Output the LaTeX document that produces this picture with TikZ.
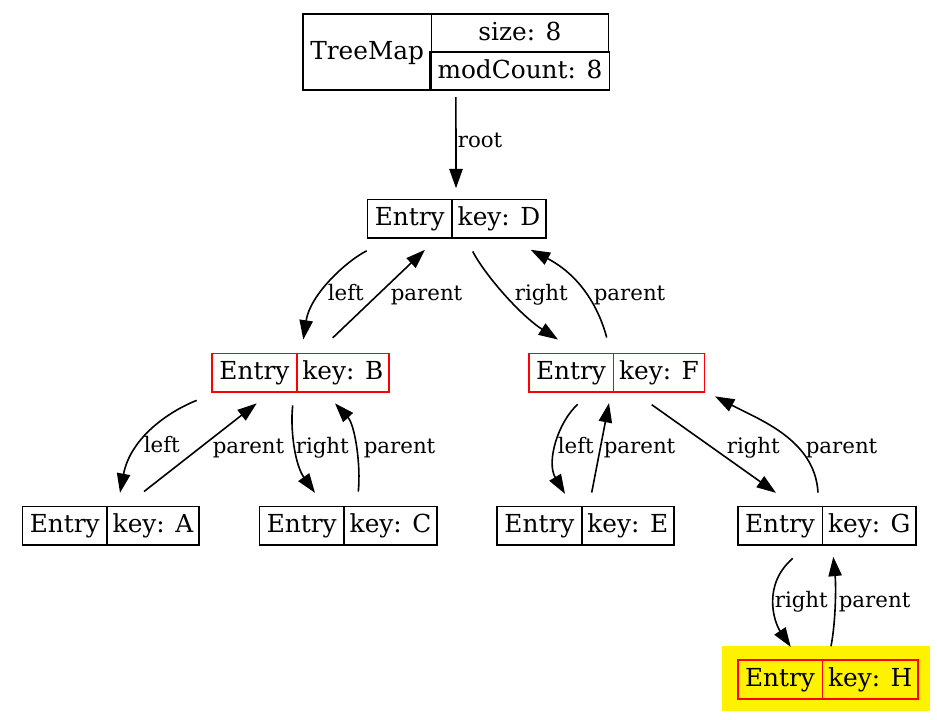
\documentclass[tikz,border=0pt]{standalone}
\usepackage{fontspec}
\setmainfont{DejaVu Serif}
\usetikzlibrary{positioning,arrows.meta}

\begin{document}
\begin{tikzpicture}[
  x=0.75pt, y=-0.75pt,
  cell/.style={draw, line width=1.2pt, inner xsep=5.5pt, inner ysep=5.6pt, text height=14pt, text depth=3.4pt, minimum height=28.9pt, outer sep=0pt, font=\fontsize{18.6pt}{22pt}\selectfont},
  keycell/.style={cell, inner xsep=4.3pt},
  hot/.style={cell, draw=red},
  hotkey/.style={keycell, draw=red},
  link/.style={-{Triangle[length=14.5pt,width=10pt]}, line width=1.2pt},
  lbl/.style={anchor=base west, inner sep=0pt, font=\fontsize{16pt}{19pt}\selectfont}
]
\useasboundingbox (0,0) rectangle (937,719);

\node[cell, minimum width=94.7pt, minimum height=57.2pt] (tm) at (367.2,52) {TreeMap};
\node[cell, anchor=north west, minimum width=132.75pt, minimum height=28.6pt] (tmsize) at (tm.north east) {size: 8};
\node[cell, below=0pt of tmsize, minimum width=132.75pt, minimum height=28.6pt] (tmcount) {modCount: 8};

\node[cell, anchor=east] (D) at (452,218.8) {Entry};
\node[keycell, right=0pt of D] (Dk) {key: D};
\node[hot, anchor=east] (B) at (296.7,372.8) {Entry};
\node[hotkey, right=0pt of B] (Bk) {key: B};
\node[hot, anchor=east] (F) at (613.3,372.8) {Entry};
\node[hotkey, right=0pt of F] (Fk) {key: F};
\node[cell, anchor=east] (A) at (107,525.8) {Entry};
\node[keycell, right=0pt of A] (Ak) {key: A};
\node[cell, anchor=east] (C) at (344,525.8) {Entry};
\node[keycell, right=0pt of C] (Ck) {key: C};
\node[cell, anchor=east] (E) at (581.7,525.8) {Entry};
\node[keycell, right=0pt of E] (Ek) {key: E};
\node[cell, anchor=east] (G) at (822.3,525.8) {Entry};
\node[keycell, right=0pt of G] (Gk) {key: G};
\node[fill=yellow, minimum width=156pt, minimum height=48.75pt] (Hbg) at (826,678.5) {};
\node[hot, anchor=east] (H) at (822.3,679.5) {Entry};
\node[hotkey, right=0pt of H] (Hk) {key: H};

\draw[link] ([shift={(25.7,7)}]tmcount.south west) -- ([shift={(4,-11.3)}]D.north east) node[lbl, at={(457,147)}] {root};

\draw[link] ([shift={(-85.3,12.7)}]D.south east) .. controls (345,262) and (310,295) .. ([shift={(6.6,-14)}]B.north east) node[lbl, at={(327,300)}] {left};
\draw[link] ([shift={(36,-15.7)}]B.north east) -- ([shift={(-27,11.7)}]D.south east) node[lbl, at={(390,300)}] {parent};
\draw[link] ([shift={(20.7,13.4)}]D.south east) .. controls (485,275) and (520,315) .. ([shift={(-55.3,-14)}]F.north east) node[lbl, at={(514,300)}] {right};
\draw[link] ([shift={(-6.6,-16)}]F.north east) .. controls (600,312) and (583,277) .. ([shift={(78.7,11.7)}]D.south east) node[lbl, at={(593,300)}] {parent};

\draw[link] ([shift={(-100,8.3)}]B.south east) .. controls (165,413) and (130,440) .. ([shift={(13,-13.7)}]A.north east) node[lbl, at={(143,452.7)}] {left};
\draw[link] ([shift={(37,-15)}]A.north east) -- ([shift={(-40,11.3)}]B.south east) node[lbl, at={(212,453)}] {parent};
\draw[link] ([shift={(-4,13.3)}]B.south east) .. controls (290,430) and (295,465) .. ([shift={(-29,-13.7)}]C.north east) node[lbl, at={(295,453)}] {right};
\draw[link] ([shift={(14.3,-15)}]C.north east) .. controls (361,465) and (355,425) .. ([shift={(38.3,11.3)}]B.south east) node[lbl, at={(363,453)}] {parent};

\draw[link] ([shift={(-35.6,12.3)}]F.south east) .. controls (558,422) and (546,462) .. ([shift={(-16.7,-12.7)}]E.north east) node[lbl, at={(557,453)}] {left};
\draw[link] ([shift={(10,-14)}]E.north east) -- ([shift={(-4.3,11)}]F.south east) node[lbl, at={(603,453)}] {parent};
\draw[link] ([shift={(38.4,12.6)}]F.south east) -- ([shift={(-46.3,-13.7)}]G.north east) node[lbl, at={(726,453)}] {right};
\draw[link] ([shift={(-4.3,-14)}]G.north east) .. controls (815,440) and (760,420) .. ([shift={(101.7,4.3)}]F.south east) node[lbl, at={(805,453)}] {parent};

\draw[link] ([shift={(-29.6,13.3)}]G.south east) .. controls (762,585) and (774,622) .. ([shift={(-31.6,-13.3)}]H.north east) node[lbl, at={(774,607.7)}] {right};
\draw[link] ([shift={(8.7,-14)}]H.north east) .. controls (836,620) and (836,585) .. ([shift={(11,11.7)}]G.south east) node[lbl, at={(838,607.7)}] {parent};
\end{tikzpicture}
\end{document}
